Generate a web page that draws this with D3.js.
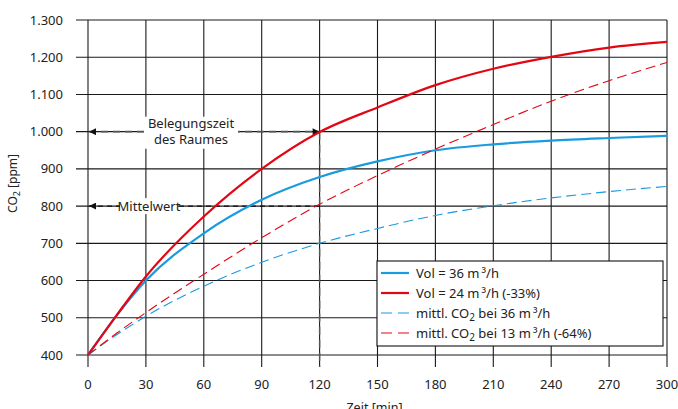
<!DOCTYPE html>
<html>
<head>
<meta charset="utf-8">
<script src="https://cdn.jsdelivr.net/npm/d3@7"></script>
<style>
  body { margin: 0; background: #fff; }
  svg { display: block; font-family: "Noto Sans", "Open Sans", sans-serif; }
</style>
</head>
<body>
<div id="chart"></div>
<script>
// time in minutes
const times = [0, 15, 30, 60, 90, 120, 150, 180, 210, 240, 270, 300];
const vol36 = [400, 507, 600, 727, 817, 878, 920, 950, 966, 976, 983, 989];
const vol24 = [400, 508, 611, 772, 900, 999, 1065, 1125, 1169, 1201, 1226, 1241];
const mean36 = [400, 455, 504, 585, 649, 700, 740, 775, 801, 822, 839, 853];
const mean13 = [400, 459, 514, 617, 715, 805, 882, 953, 1019, 1082, 1137, 1186];

const xTicks = [0, 30, 60, 90, 120, 150, 180, 210, 240, 270, 300];
const yTicks = [400, 500, 600, 700, 800, 900, 1000, 1100, 1200, 1300];

const series = [
    { name: "Vol = 36 m\u2009³/h", values: vol36, color: "#1a9be0", width: 2.2, dash: null },
    { name: "Vol = 24 m\u2009³/h (-33%)", values: vol24, color: "#e30613", width: 2.2, dash: null },
    { name: "mittl. CO|2| bei 36 m\u2009³/h", values: mean36, color: "#1a9be0", width: 1.1, dash: "10,5" },
    { name: "mittl. CO|2| bei 13 m\u2009³/h (-64%)", values: mean13, color: "#e30613", width: 1.1, dash: "10,5" }
];

const W = 678, H = 409;
const margin = { top: 20, right: 11, bottom: 54, left: 88 };

const x = d3.scaleLinear().domain([0, 300]).range([margin.left, W - margin.right]);
const y = d3.scaleLinear().domain([400, 1300]).range([H - margin.bottom, margin.top]);

const fmt = d3.formatLocale({ decimal: ",", thousands: ".", grouping: [3], currency: ["", "€"] }).format(",d");

const svg = d3.select("#chart").append("svg")
    .attr("width", W)
    .attr("height", H);

const defs = svg.append("defs");
defs.append("marker")
    .attr("id", "arrow")
    .attr("viewBox", "0 0 10 10")
    .attr("refX", 10).attr("refY", 5)
    .attr("markerWidth", 9).attr("markerHeight", 7)
    .attr("markerUnits", "userSpaceOnUse")
    .attr("orient", "auto-start-reverse")
    .append("path")
    .attr("d", "M0,0L10,5L0,10Z")
    .attr("fill", "#111");

// grid: horizontal
const grid = svg.append("g").attr("stroke", "#1a1a1a").attr("stroke-width", 1.1);
grid.selectAll("line.h")
    .data(yTicks)
    .join("line")
    .attr("class", "h")
    .attr("x1", x(0) - 12).attr("x2", x(300))
    .attr("y1", d => y(d)).attr("y2", d => y(d));

grid.selectAll("line.v")
    .data(xTicks)
    .join("line")
    .attr("class", "v")
    .attr("x1", d => x(d)).attr("x2", d => x(d))
    .attr("y1", y(1300)).attr("y2", y(400) + 12);

// tick labels
svg.append("g")
    .selectAll("text")
    .data(yTicks)
    .join("text")
    .attr("x", x(0) - 25)
    .attr("y", d => y(d))
    .attr("dy", "0.35em")
    .attr("text-anchor", "end")
    .attr("font-size", 13)
    .attr("fill", "#222")
    .text(d => fmt(d));

svg.append("g")
    .selectAll("text")
    .data(xTicks)
    .join("text")
    .attr("x", d => x(d))
    .attr("y", y(400) + 34)
    .attr("text-anchor", "middle")
    .attr("font-size", 13)
    .attr("fill", "#222")
    .text(d => d);

// axis titles
svg.append("text")
    .attr("x", (x(0) + x(300)) / 2 - 3)
    .attr("y", H + 3)
    .attr("text-anchor", "middle")
    .attr("font-size", 12.5)
    .attr("fill", "#222")
    .text("Zeit [min]");

const yTitle = svg.append("text")
    .attr("transform", `translate(17,${(y(400) + y(1300)) / 2 - 4}) rotate(-90)`)
    .attr("text-anchor", "middle")
    .attr("font-size", 12)
    .attr("fill", "#222");
yTitle.append("tspan").text("CO");
yTitle.append("tspan").attr("font-size", 9).attr("dy", 3).text("2");
yTitle.append("tspan").attr("dy", -3).text(" [ppm]");

// annotations
svg.append("line")
    .attr("x1", x(120)).attr("x2", x(120))
    .attr("y1", y(1000)).attr("y2", y(400) + 12)
    .attr("stroke", "#555").attr("stroke-width", 1.4)
    .attr("stroke-dasharray", "8,5");

svg.append("line")
    .attr("x1", x(0) + 1).attr("x2", x(120))
    .attr("y1", y(1000)).attr("y2", y(1000))
    .attr("stroke", "#555").attr("stroke-width", 1.6)
    .attr("stroke-dasharray", "7,5")
    .attr("marker-start", "url(#arrow)")
    .attr("marker-end", "url(#arrow)");

svg.append("line")
    .attr("x1", x(0) + 1).attr("x2", x(120))
    .attr("y1", y(800)).attr("y2", y(800))
    .attr("stroke", "#111").attr("stroke-width", 1.1)
    .attr("stroke-dasharray", "5,4")
    .attr("marker-start", "url(#arrow)");

// curves
const line = d3.line()
    .x((d, i) => x(times[i]))
    .y(d => y(d))
    .curve(d3.curveMonotoneX);

svg.append("g")
    .selectAll("path")
    .data(series)
    .join("path")
    .attr("fill", "none")
    .attr("stroke", d => d.color)
    .attr("stroke-width", d => d.width)
    .attr("stroke-dasharray", d => d.dash)
    .attr("d", d => line(d.values));

// annotation labels with white background
const cx = 191;
svg.append("rect")
    .attr("x", cx - 47).attr("y", y(1000) - 15)
    .attr("width", 94).attr("height", 32)
    .attr("fill", "#fff");
svg.append("text")
    .attr("x", cx).attr("y", y(1000) - 4)
    .attr("text-anchor", "middle").attr("font-size", 13).attr("fill", "#222")
    .text("Belegungszeit");
svg.append("text")
    .attr("x", cx).attr("y", y(1000) + 12)
    .attr("text-anchor", "middle").attr("font-size", 13).attr("fill", "#222")
    .text("des Raumes");

svg.append("rect")
    .attr("x", 120).attr("y", y(800) - 8)
    .attr("width", 58).attr("height", 16)
    .attr("fill", "#fff");
svg.append("text")
    .attr("x", 149).attr("y", y(800))
    .attr("dy", "0.35em")
    .attr("text-anchor", "middle").attr("font-size", 13).attr("fill", "#222")
    .text("Mittelwert");

// legend
const lg = svg.append("g").attr("transform", "translate(377,261)");
lg.append("rect")
    .attr("width", 286).attr("height", 85)
    .attr("fill", "#fff").attr("stroke", "#111").attr("stroke-width", 1.1);

const item = lg.selectAll("g")
    .data(series)
    .join("g")
    .attr("transform", (d, i) => `translate(0,${12 + i * 20})`);

item.append("line")
    .attr("x1", 4).attr("x2", 32)
    .attr("stroke", d => d.color)
    .attr("stroke-width", d => d.width)
    .attr("stroke-dasharray", d => d.dash ? "11,6" : null);

item.append("text")
    .attr("x", 39)
    .attr("dy", "0.35em")
    .attr("font-size", 13)
    .attr("fill", "#222")
    .each(function (d) {
        const parts = d.name.split("|");
        const t = d3.select(this);
        t.append("tspan").text(parts[0]);
        if (parts.length > 1) {
            t.append("tspan").attr("font-size", 10).attr("dy", 3).text(parts[1]);
            t.append("tspan").attr("dy", -3).text(parts[2]);
        }
    });
</script>
</body>
</html>
